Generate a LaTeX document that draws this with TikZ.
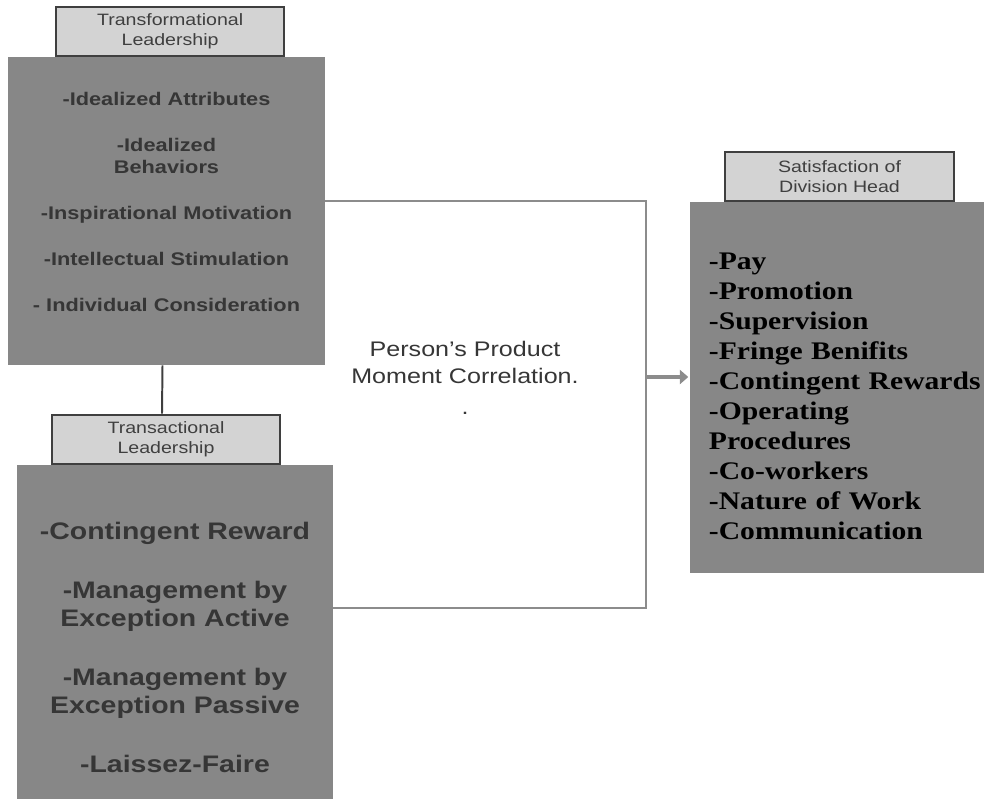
\documentclass[tikz,border=0pt]{standalone}
\usepackage{fontspec}
\setmainfont{Liberation Sans}[FakeStretch=1.19]
\newfontfamily\listafont{Liberation Serif}[FakeStretch=1.17]
\usetikzlibrary{positioning,arrows.meta}
\definecolor{gris}{HTML}{878787}
\definecolor{grisclaro}{HTML}{D3D3D3}
\definecolor{grisoscuro}{HTML}{3F3F3F}
\definecolor{textogris}{HTML}{363636}
\definecolor{lineagris}{HTML}{8C8C8C}

\begin{document}
\begin{tikzpicture}[x=0.025cm,y=-0.025cm,
  caja/.style={fill=gris,inner sep=0pt,align=center,text=textogris},
  pestana/.style={fill=grisclaro,draw=grisoscuro,line width=1.4pt,minimum width=5.7cm,
    minimum height=1.225cm,inner sep=0pt,align=center,text=grisoscuro,
    font=\fontsize{11.7}{14.2}\selectfont},
  enlace/.style={draw=lineagris,line width=1.1pt},
  flecha/.style={draw=lineagris,line width=3.5pt,-{Triangle[length=6pt,width=10pt]}}]
\useasboundingbox (0,0) rectangle (984,798);

\node[caja,minimum width=7.925cm,minimum height=7.7cm,
  font=\bfseries\fontsize{13}{15.6}\selectfont] (transf) at (166.5,211)
{-Idealized Attributes\\[17pt]
-Idealized\\Behaviors\\[17pt]
-Inspirational Motivation\\[17pt]
-Intellectual Stimulation\\[17pt]
- Individual Consideration\rule[-13pt]{0pt}{0pt}};
\node[pestana,above=0pt of transf,xshift=0.09cm] (transfTab) {Transformational\\Leadership};

\node[caja,minimum width=7.9cm,minimum height=9.125cm,
  font=\bfseries\fontsize{17}{20}\selectfont] (transa) at (175,647.5)
{-Contingent Reward\\[22pt]
-Management by\\Exception Active\\[22pt]
-Management by\\Exception Passive\\[22pt]
-Laissez-Faire};
\node[pestana,above=0pt of transa,xshift=-0.225cm] (transaTab) {Transactional\\Leadership};

\node[caja,minimum width=8.075cm,minimum height=9.275cm,inner xsep=0.475cm,
  text width=7.125cm,align=left,text=black,
  font=\listafont\bfseries\fontsize{18}{21.3}\selectfont] (satis) at (851.5,387.5)
{\rule{0pt}{24pt}-Pay\\-Promotion\\-Supervision\\-Fringe Benifits\\-Contingent Rewards\\
-Operating\\Procedures\\-Co-workers\\-Nature of Work\\-Communication};
\node[pestana,above=0pt of satis,xshift=-0.3cm] (satisTab) {Satisfaction of\\Division Head};

\node[align=center,text=textogris,font=\fontsize{15}{19}\selectfont] (corr) at (465,378)
{Person’s Product\\Moment Correlation.\\[3pt].};

\coordinate (jtop) at (646,201);
\coordinate (jmid) at (646,377);
\coordinate (jbot) at (646,608);

\draw[grisoscuro,line width=1.4pt] ([xshift=-0.1cm]transf.south) -- ([xshift=-0.1cm]transaTab.north);
\draw[enlace] (transf.east |- jtop) -- (jtop) -- (jbot) -- (transa.east |- jbot);
\draw[flecha] (jmid) -- ([xshift=-1pt]satis.west |- jmid);
\end{tikzpicture}
\end{document}
